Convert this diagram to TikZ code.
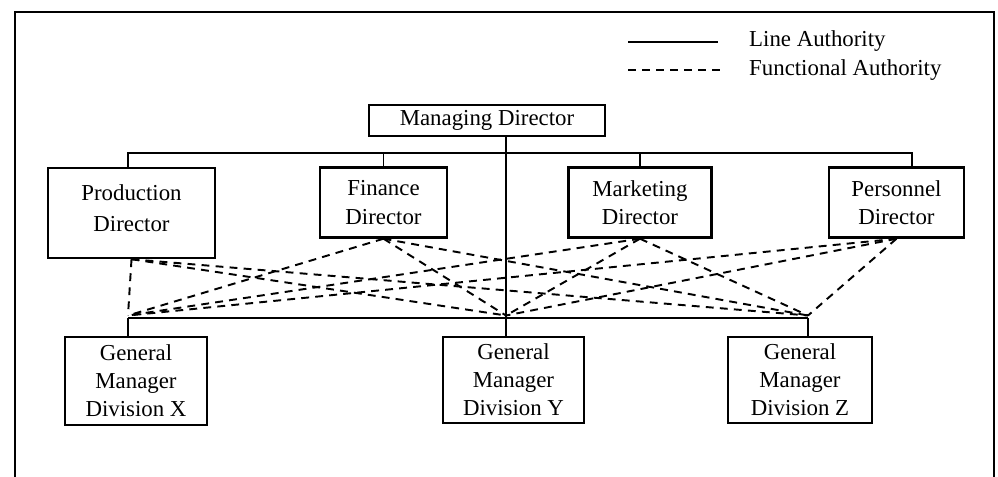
\documentclass[tikz,border=0pt]{standalone}
\usepackage{fontspec}
\setmainfont{Liberation Serif}
\tikzset{
  post/.style={draw, line width=1.4pt, align=center, inner sep=2pt,
    font=\fontsize{13}{16}\selectfont},
  line/.style={line width=0.9pt},
  functional/.style={line width=1.1pt, dash pattern=on 4.5pt off 3.5pt},
  legend/.style={anchor=west, font=\fontsize{13}{16}\selectfont}
}
\begin{document}
\begin{tikzpicture}[x=0.02cm, y=-0.02cm]
      \useasboundingbox (0,0) rectangle (998,477);
      \draw[line width=1pt] (15,477) |- (994,12) -- (994,477);
      \node[legend] (lline) at (743,41) {Line Authority};
      \node[legend] (lfunc) at (743,70) {Functional Authority};
      \coordinate (lsolid) at (628,42);
      \coordinate (ldash) at (628,70);
      \draw[line] (lsolid) -- ([xshift=-0.5cm]lline.west |- lsolid);
      \draw[functional] (ldash) -- ([xshift=-0.45cm]lfunc.west |- ldash);
      \node[post, minimum width=4.72cm, minimum height=0.62cm] (md) at (487,120.5) {Managing Director};
      \node[post, minimum width=3.34cm, minimum height=1.8cm, text depth=0.2cm] (pd) at (131.5,213) {Production\\[2pt] Director};
      \node[post, minimum width=2.54cm, minimum height=1.4cm] (fd) at (383.5,202.5) {Finance\\ Director};
      \node[post, minimum width=2.86cm, minimum height=1.4cm] (mkd) at (640,202.5) {Marketing\\ Director};
      \node[post, minimum width=2.7cm, minimum height=1.4cm] (psd) at (896.5,202.5) {Personnel\\ Director};
      \node[post, minimum width=2.84cm, minimum height=1.76cm] (gmx) at (136,381) {General\\ Manager\\ Division X};
      \node[post, minimum width=2.82cm, minimum height=1.72cm] (gmy) at (513.5,380) {General\\ Manager\\ Division Y};
      \node[post, minimum width=2.88cm, minimum height=1.72cm] (gmz) at (800,380) {General\\ Manager\\ Division Z};
      \coordinate (bus) at (506,153);
      \coordinate (jx) at (128,318);
      \coordinate (jy) at (506,318);
      \coordinate (jz) at (808,318);
      \draw[line] (jx |- pd.north) |- (bus) -| (psd.north -| 912,0);
      \draw[line] (fd.north) -- (fd.north |- bus);
      \draw[line] (mkd.north) -- (mkd.north |- bus);
      \draw[line] (md.south -| jy) -- (jy |- gmy.north);
      \draw[line] (jx) -- (jz);
      \draw[line] (jx) -- (jx |- gmx.north);
      \draw[line] (jz) -- (jz |- gmz.north);
      \foreach \d in {pd,fd,mkd,psd}
        \foreach \g in {jx,jy,jz}
          \draw[functional] (\d.south) -- ([yshift=0.05cm]\g);
     \end{tikzpicture}
\end{document}
